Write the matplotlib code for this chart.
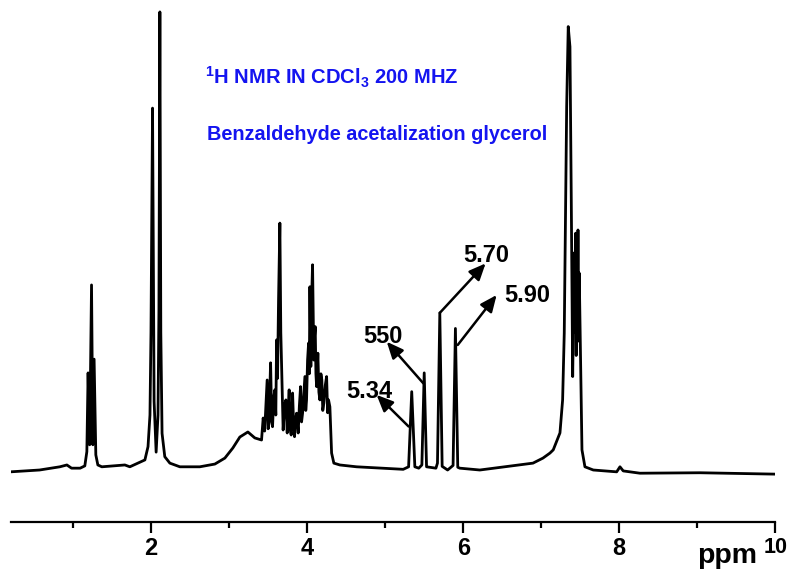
import numpy as np
import matplotlib
matplotlib.use('Agg')
import matplotlib.pyplot as plt
from matplotlib import font_manager

# 1H NMR trace, ppm vs. relative intensity (tallest peak = 100)
trace_ppm = [0.197, 0.57, 0.83, 0.92, 0.98, 1.09, 1.15, 1.176, 1.192, 1.212,
             1.236, 1.253, 1.269, 1.291, 1.317, 1.368, 1.663, 1.727, 1.92, 1.96,
             1.985, 1.998, 2.018, 2.038, 2.064, 2.088, 2.100, 2.112, 2.124, 2.14,
             2.175, 2.24, 2.368, 2.624, 2.817, 2.945, 3.047, 3.137, 3.24, 3.329,
             3.415, 3.436, 3.455, 3.471, 3.487, 3.50, 3.513, 3.522, 3.531, 3.545,
             3.556, 3.572, 3.586, 3.598, 3.608, 3.620, 3.633, 3.650, 3.662, 3.672,
             3.692, 3.710, 3.727, 3.744, 3.756, 3.769, 3.782, 3.795, 3.813, 3.826,
             3.838, 3.851, 3.864, 3.885, 3.900, 3.915, 3.928, 3.941, 3.956, 3.971,
             3.982, 3.992, 4.005, 4.018, 4.027, 4.035, 4.047, 4.058, 4.069, 4.085,
             4.094, 4.103, 4.112, 4.121, 4.137, 4.150, 4.163, 4.176, 4.188, 4.200,
             4.214, 4.232, 4.249, 4.262, 4.274, 4.291, 4.313, 4.342, 4.419, 4.633,
             5.231, 5.30, 5.38, 5.43, 5.47, 5.53, 5.65, 5.67, 5.73, 5.80,
             5.87, 5.93, 5.956, 6.213, 6.894, 7.022, 7.112, 7.154, 7.240, 7.274,
             7.295, 7.313, 7.326, 7.346, 7.368, 7.385, 7.403, 7.423, 7.432, 7.441,
             7.448, 7.454, 7.462, 7.471, 7.479, 7.487, 7.505, 7.522, 7.560, 7.667,
             7.967, 8.009, 8.051, 8.265, 9.035, 9.996]
trace_int = [-0.4, 0.0, 0.7, 1.1, 0.4, 0.4, 0.9, 4.0, 21.2, 5.5,
             40.4, 5.5, 24.2, 3.3, 1.1, 0.7, 1.1, 0.7, 2.2, 5.1,
             12.0, 30.0, 79.0, 15.0, 3.9, 12.0, 35.0, 100.0, 30.0, 8.0,
             2.9, 1.5, 0.7, 0.7, 1.3, 2.6, 4.8, 7.2, 8.3, 7.0,
             6.55, 11.35, 8.5, 14.2, 19.65, 9.0, 10.5, 18.0, 23.4, 11.0,
             9.45, 16.0, 17.5, 12.0, 28.4, 20.0, 37.1, 53.9, 30.0, 22.6,
             8.73, 14.0, 15.3, 8.08, 13.0, 17.5, 9.0, 7.64, 16.8, 10.0,
             7.27, 11.0, 12.4, 8.08, 14.0, 18.2, 10.5, 12.4, 16.5, 20.4,
             13.0, 15.3, 24.0, 27.7, 21.0, 40.0, 22.6, 38.0, 44.8, 24.0,
             29.0, 31.3, 21.0, 18.2, 25.5, 17.0, 15.3, 21.0, 19.65, 13.0,
             14.6, 18.5, 20.4, 12.5, 15.3, 13.8, 3.7, 1.5, 1.1, 0.7,
             0.15, 0.7, 0.7, 0.4, 1.1, 0.7, 0.4, 1.5, 0.8, 0.0,
             1.0, 0.6, 0.4, 0.0, 1.5, 2.6, 3.7, 4.4, 8.1, 15.3,
             29.9, 59.0, 79.3, 96.8, 92.4, 59.0, 20.4, 47.4, 30.0, 51.7,
             25.0, 37.1, 28.0, 52.4, 30.0, 43.0, 22.5, 4.4, 0.7, 0.0,
             -0.4, 0.7, -0.2, -0.7, -0.6, -0.9]

# labelled singlets
shift_ppm = [5.34, 5.50, 5.70, 5.90]
shift_int = [17.1, 21.2, 34.3, 30.9]
shift_text = ['5.34', '550', '5.70', '5.90']

# arrow tails / heads and label anchors (ppm, intensity)
tail_ppm = [5.30, 5.49, 5.70, 5.93]
tail_int = [9.5, 18.9, 34.3, 27.3]
head_ppm = [4.89, 5.02, 6.287, 6.428]
head_int = [16.4, 28.0, 45.1, 38.2]
text_ppm = [4.80, 4.97, 6.29, 6.823]
text_int = [15.7, 27.7, 45.5, 36.75]

names = {f.name for f in font_manager.fontManager.ttflist}
FONT = 'Liberation Sans Narrow' if 'Liberation Sans Narrow' in names else 'Liberation Sans'

plt.rcParams['font.family'] = [FONT, 'DejaVu Sans']
plt.rcParams['font.weight'] = 'bold'
plt.rcParams['mathtext.fontset'] = 'custom'
plt.rcParams['mathtext.rm'] = FONT + ':bold'
plt.rcParams['mathtext.default'] = 'rm'

W, H = 793, 575
fig = plt.figure(figsize=(W / 100, H / 100), dpi=100)
ax = fig.add_axes([10.7 / W, 53 / H, 764.6 / W, 522 / H])

x = np.concatenate([trace_ppm, shift_ppm])
y = np.concatenate([trace_int, shift_int])
order = np.argsort(x)
ax.plot(x[order], y[order], color='k', lw=2.0, solid_joinstyle='round')

ax.set_xlim(0.2, 10)
ax.set_ylim(-11.35, 102.6)
for side in ['left', 'right', 'top']:
    ax.spines[side].set_visible(False)
ax.spines['bottom'].set_linewidth(1.6)
ax.set_yticks([])
ax.set_xticks([2, 4, 6, 8, 10])
ax.set_xticks([1, 3, 5, 7, 9], minor=True)
ax.tick_params(axis='x', which='major', length=8, width=1.6, labelsize=17, pad=3)
ax.tick_params(axis='x', which='minor', length=4, width=1.6)
# last label is smaller, next to the unit
ax.get_xticklabels()[-1].set_fontsize(15.5)

for i in range(len(shift_text)):
    ax.annotate('', xy=(head_ppm[i], head_int[i]), xytext=(tail_ppm[i], tail_int[i]),
                arrowprops=dict(arrowstyle='-|>,head_length=0.5,head_width=0.22',
                                mutation_scale=20, lw=1.8, color='k',
                                shrinkA=0, shrinkB=0))
    ax.text(text_ppm[i], text_int[i], shift_text[i], fontsize=17,
            ha='center', va='baseline', color='k')

blue = '#1414f0'
fig.text(205 / W, 1 - 85 / H, r'$^{1}$H NMR IN CDCl$_{3}$ 200 MHZ',
         fontsize=14.5, color=blue, va='baseline')
fig.text(207 / W, 1 - 140 / H, 'Benzaldehyde acetalization glycerol',
         fontsize=14.3, color=blue, va='baseline')

fig.text(697 / W, 1 - 563 / H, 'ppm', fontsize=20.5, va='baseline')

fig.savefig('out.png', dpi=100)
